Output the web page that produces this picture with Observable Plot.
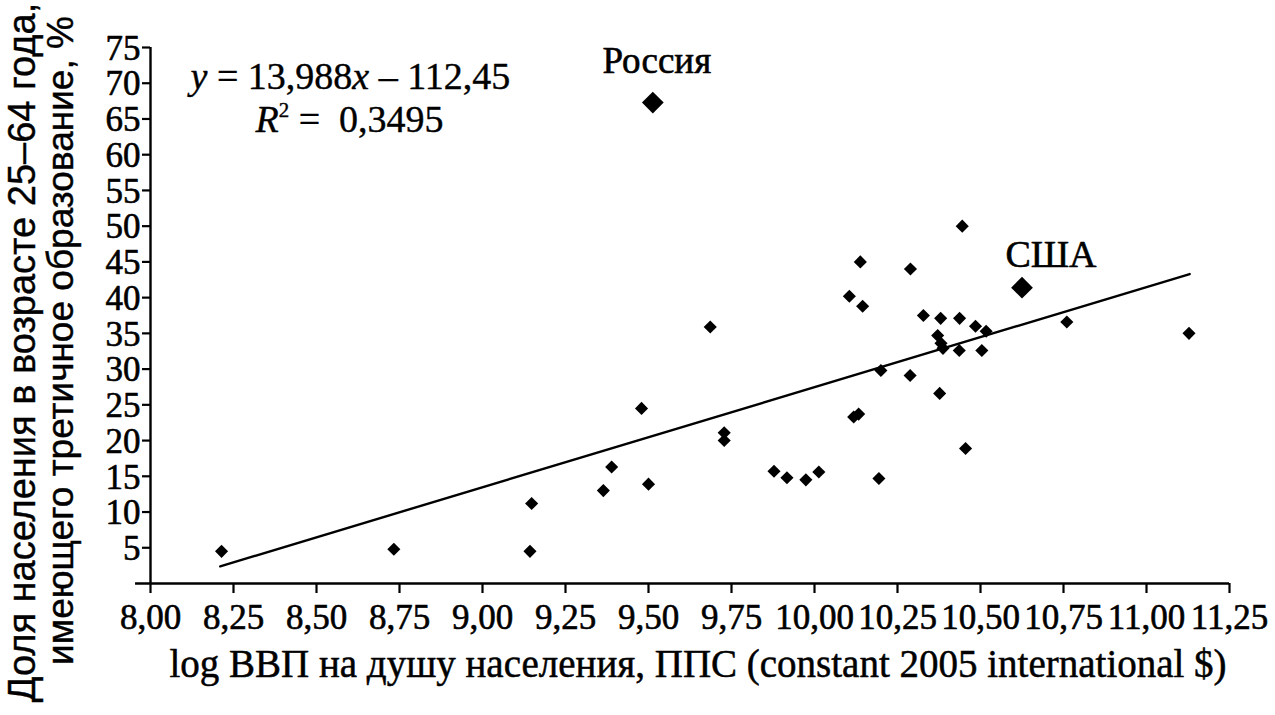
<!DOCTYPE html>
<html>
<head>
<meta charset="utf-8">
<script src="https://cdn.jsdelivr.net/npm/d3@7"></script>
<script src="https://cdn.jsdelivr.net/npm/@observablehq/plot@0.6"></script>
<style>
  body { margin: 0; background: #fff; }
  svg { display: block; }
</style>
</head>
<body>
<div id="chart"></div>
<script>
// Countries: log GDP per capita (PPP) vs share of 25–64 with tertiary education, %
const countryX = [8.214, 8.733, 9.148, 9.143, 9.364, 9.389, 9.479, 9.500,
  9.686, 9.728, 9.728, 9.878, 9.917, 9.974, 10.013, 10.194,
  10.105, 10.145, 10.328, 10.380, 10.437, 10.485, 10.517, 10.371, 10.381, 10.387,
  10.436, 10.504, 10.200, 10.288, 10.377, 10.118, 10.133, 10.455,
  10.445, 10.138, 10.289, 10.760, 11.128];
const countryY = [4.5, 4.8, 11.2, 4.5, 13.0, 16.3, 24.5, 13.9,
  35.9, 21.1, 20.0, 15.7, 14.8, 14.5, 15.6, 14.7,
  40.2, 38.8, 37.5, 37.1, 37.1, 36.0, 35.3, 34.7, 33.6, 32.9,
  32.6, 32.6, 29.8, 29.1, 26.6, 23.3, 23.7, 18.9,
  50.0, 45.0, 44.0, 36.6, 35.0];

const highlightNames = ["Россия", "США"];
const highlightX = [9.513, 10.625];
const highlightY = [67.3, 41.4];

// Trend line endpoints as drawn in the picture
const trendX = [8.21, 11.13];
const trendY = [2.4, 43.3];

const xTicks = [8, 8.25, 8.5, 8.75, 9, 9.25, 9.5, 9.75, 10, 10.25, 10.5, 10.75, 11, 11.25];
const yTicks = [5, 10, 15, 20, 25, 30, 35, 40, 45, 50, 55, 60, 65, 70, 75];

const equationText = "y = 13,988x – 112,45";
const r2Text = "R2 = 0,3495";
const xTitle = "log ВВП на душу населения, ППС (constant 2005 international $)";
const yTitle1 = "Доля населения в возрасте 25–64 года,";
const yTitle2 = "имеющего третичное образование, %";

const points = countryX.map((x, i) => ({x, y: countryY[i]}));
const highlights = highlightNames.map((name, i) => ({name, x: highlightX[i], y: highlightY[i]}));
const trend = trendX.map((x, i) => ({x, y: trendY[i]}));

const fmt = d => d.toFixed(2).replace(".", ",");
const serif = "Liberation Serif";
const sans = "Liberation Sans";

const chart = Plot.plot({
  width: 1275,
  height: 715,
  marginLeft: 150,
  marginRight: 46,
  marginTop: 47,
  marginBottom: 132,
  style: {background: "#fff", color: "#000"},
  x: {domain: [8, 11.25]},
  y: {domain: [0, 75]},
  marks: [
    Plot.axisX({ticks: xTicks, tickFormat: () => "", tickSize: 10, strokeWidth: 2.2, label: null, stroke: "#000"}),
    Plot.axisY({ticks: yTicks, tickFormat: () => "", tickSize: 8, strokeWidth: 2.2, label: null, stroke: "#000"}),
    Plot.text(xTicks, {x: d => d, text: fmt, frameAnchor: "bottom", lineAnchor: "top", dy: 21,
      fontSize: 35, fontFamily: serif, fill: "#000", stroke: "#000", strokeWidth: 0.6}),
    Plot.text(yTicks, {y: d => d, text: d => String(d), frameAnchor: "left", textAnchor: "end", dx: -10, dy: 1,
      fontSize: 35, fontFamily: serif, fill: "#000", stroke: "#000", strokeWidth: 0.6}),
    Plot.ruleY([0], {x1: 7.955, x2: 11.25, strokeWidth: 2.6}),
    Plot.ruleX([8], {y1: 0, y2: 75, strokeWidth: 2.4}),
    Plot.line(trend, {x: "x", y: "y", stroke: "#000", strokeWidth: 2.4}),
    Plot.dot(points, {x: "x", y: "y", symbol: "diamond2", r: 5.9, fill: "#000", stroke: "none"}),
    Plot.dot(highlights, {x: "x", y: "y", symbol: "diamond2", r: 9.8, fill: "#000", stroke: "none"}),
    Plot.text(highlights.slice(0, 1), {x: "x", y: "y", text: "name", dx: 4, dy: -41,
      fontSize: 37, fontFamily: serif, fill: "#000", stroke: "#000", strokeWidth: 0.6}),
    Plot.text(highlights.slice(1), {x: "x", y: "y", text: "name", dx: 29, dy: -33,
      fontSize: 38, fontFamily: serif, fill: "#000", stroke: "#000", strokeWidth: 0.6}),
    Plot.text([equationText], {frameAnchor: "top-left", textAnchor: "start", dx: 40, dy: 15, fontSize: 38,
      fontFamily: serif, fill: "#000", stroke: "#000", strokeWidth: 0.4}),
    Plot.text([r2Text], {frameAnchor: "top-left", textAnchor: "start", dx: 105, dy: 58, fontSize: 38,
      fontFamily: serif, fill: "#000", stroke: "#000", strokeWidth: 0.4}),
    Plot.text([xTitle], {frameAnchor: "bottom", textAnchor: "middle", dx: 8, dy: 93, fontSize: 39,
      fontFamily: serif, fill: "#000", stroke: "#000", strokeWidth: 0.5}),
    Plot.text([yTitle1], {frameAnchor: "left", textAnchor: "middle", dx: -128, dy: 37, rotate: -90, fontSize: 38,
      fontFamily: sans, fill: "#000", stroke: "#000", strokeWidth: 0.4}),
    Plot.text([yTitle2], {frameAnchor: "left", textAnchor: "middle", dx: -89, dy: 25, rotate: -90, fontSize: 37,
      fontFamily: sans, fill: "#000", stroke: "#000", strokeWidth: 0.4})
  ]
});

document.getElementById("chart").appendChild(chart);

// Rich equation formatting (italic variables, superscript 2)
d3.select(chart).selectAll("text").each(function () {
  const t = this.textContent;
  const s = d3.select(this);
  if (t === equationText) {
    s.text(null);
    s.append("tspan").attr("font-style", "italic").text("y");
    s.append("tspan").text(" = 13,988");
    s.append("tspan").attr("font-style", "italic").text("x");
    s.append("tspan").text(" – 112,45");
  } else if (t === r2Text) {
    s.text(null);
    s.append("tspan").attr("font-style", "italic").text("R");
    s.append("tspan").attr("font-size", "55%").attr("dy", "-0.75em").text("2");
    s.append("tspan").attr("dy", "0.41em").text(" =  0,3495");
  }
});
</script>
</body>
</html>
